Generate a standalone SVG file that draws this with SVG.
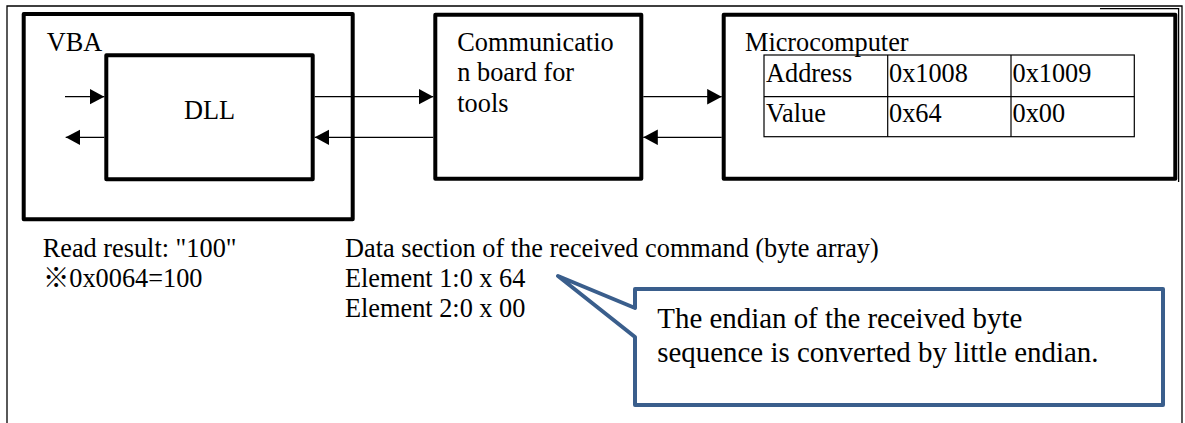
<svg xmlns="http://www.w3.org/2000/svg" width="1185" height="423" viewBox="0 0 1185 423">
  <style>
    .t { font-family: "Liberation Serif", "Noto Sans CJK JP", serif; font-size: 26.3px; fill: #000; }
    .tc { font-family: "Liberation Serif", "Noto Sans CJK JP", serif; font-size: 28.9px; fill: #000; }
    .box { fill: none; stroke: #000; stroke-width: 4; stroke-linejoin: round; }
    .thin { fill: none; stroke: #000; stroke-width: 1.3; }
    .cell { fill: none; stroke: #000; stroke-width: 1.2; }
    .conn { fill: none; stroke: #000; stroke-width: 1.3; marker-end: url(#arrow); }
    .callout { fill: #fff; stroke: #3A5E8C; stroke-width: 4; stroke-linejoin: round; }
  </style>
  <defs>
    <marker id="arrow" markerUnits="userSpaceOnUse" markerWidth="15" markerHeight="16" refX="14.5" refY="7.75" orient="auto">
      <path d="M0,0 L14.5,7.75 L0,15.5 z" fill="#000"/>
    </marker>
  </defs>

  <rect width="1185" height="423" fill="#fff"/>

  <g id="frame">
    <path class="thin" d="M7,423 L7,6 L1182,6 L1182,423"/>
    <path class="thin" d="M1100,8.6 L1178.6,8.6 L1178.6,182"/>
  </g>

  <g id="node-vba">
    <rect class="box" x="23.7" y="14" width="329" height="205.3"/>
    <text class="t" x="46.7" y="50.7">VBA</text>
  </g>

  <g id="node-dll">
    <rect class="box" x="106.3" y="55.3" width="206.4" height="124"/>
    <text class="t" x="209.5" y="119" text-anchor="middle">DLL</text>
  </g>

  <g id="node-comm">
    <rect class="box" x="435.3" y="14.7" width="206" height="164"/>
    <text class="t" x="457.3" y="50.7">Communicatio</text>
    <text class="t" x="457.3" y="81.2">n board for</text>
    <text class="t" x="457.3" y="111.7">tools</text>
  </g>

  <g id="node-micro">
    <rect class="box" x="723.7" y="14.7" width="451.6" height="164"/>
    <text class="t" x="745" y="50.7">Microcomputer</text>
    <g id="table">
      <rect class="cell" x="764" y="55" width="370.3" height="81.7"/>
      <line class="cell" x1="764" y1="96.7" x2="1134.3" y2="96.7"/>
      <line class="cell" x1="887.7" y1="55" x2="887.7" y2="136.7"/>
      <line class="cell" x1="1011" y1="55" x2="1011" y2="136.7"/>
      <text class="t" x="766" y="81.7">Address</text>
      <text class="t" x="889" y="81.7">0x1008</text>
      <text class="t" x="1012.5" y="81.7">0x1009</text>
      <text class="t" x="766" y="121.7">Value</text>
      <text class="t" x="889" y="121.7">0x64</text>
      <text class="t" x="1012.5" y="121.7">0x00</text>
    </g>
  </g>

  <g id="connectors">
    <line class="conn" x1="65" y1="96.7" x2="104.3" y2="96.7"/>
    <line class="conn" x1="104.3" y1="137.3" x2="65.7" y2="137.3"/>
    <line class="conn" x1="314.7" y1="96.7" x2="433.3" y2="96.7"/>
    <line class="conn" x1="433.3" y1="137.3" x2="314.7" y2="137.3"/>
    <line class="conn" x1="643.3" y1="96.7" x2="721.7" y2="96.7"/>
    <line class="conn" x1="721.7" y1="137.3" x2="643.3" y2="137.3"/>
  </g>

  <g id="labels">
    <text class="t" x="42.7" y="256.7">Read result: "100"</text>
    <text class="t" x="43" y="286.7">※0x0064=100</text>
    <text class="t" x="345" y="256.7">Data section of the received command (byte array)</text>
    <text class="t" x="345" y="286.7">Element 1:0 x 64</text>
    <text class="t" x="345" y="316.7">Element 2:0 x 00</text>
  </g>

  <g id="callout">
    <path class="callout" d="M635,289 L1163,289 L1163,405 L635,405 L635,337 L558,276 L635,308 Z"/>
    <text class="tc" x="657.3" y="328.3">The endian of the received byte</text>
    <text class="tc" x="657.3" y="361.7">sequence is converted by little endian.</text>
  </g>
</svg>
